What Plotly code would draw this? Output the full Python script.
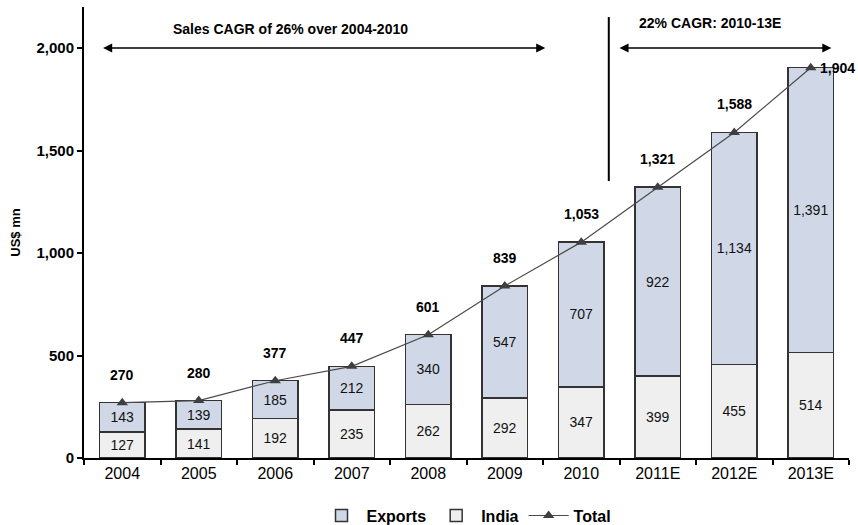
import plotly.graph_objects as go

years = ["2004", "2005", "2006", "2007", "2008", "2009", "2010", "2011E", "2012E", "2013E"]
india = [127, 141, 192, 235, 262, 292, 347, 399, 455, 514]
exports = [143, 139, 185, 212, 340, 547, 707, 922, 1134, 1391]
total = [270, 280, 377, 447, 601, 839, 1053, 1321, 1588, 1904]

FONT = "Liberation Sans, Arial, sans-serif"
EDGE = "#333333"

fig = go.Figure()

fig.add_trace(go.Bar(
    x=years, y=india, name="India", legendrank=2,
    marker=dict(color="#EFEFEF", line=dict(color=EDGE, width=1.5)),
    text=[f"{v:,}" for v in india], textposition="inside",
    insidetextanchor="middle", textangle=0,
    textfont=dict(family=FONT, size=14, color="#111111"),
))
fig.add_trace(go.Bar(
    x=years, y=exports, name="Exports", legendrank=1,
    marker=dict(color="#D0D8E7", line=dict(color=EDGE, width=1.5)),
    text=[f"{v:,}" for v in exports], textposition="inside",
    insidetextanchor="middle", textangle=0,
    textfont=dict(family=FONT, size=14, color="#111111"),
))
fig.add_trace(go.Scatter(
    x=years, y=total, name="Total", legendrank=3, mode="lines+markers",
    line=dict(color="#4A4A4A", width=1.2),
    marker=dict(symbol="triangle-up", size=10, color="#3F3F3F"),
))

# total labels above each bar (last one sits to the right of its marker);
# category axes position annotations by category index
annotations = []
for i, t in enumerate(total):
    last = i == len(total) - 1
    annotations.append(dict(
        x=i, y=t, xref="x", yref="y", text=f"<b>{t:,}</b>", showarrow=False,
        xshift=27 if last else 0, yshift=0 if last else 28,
        font=dict(family=FONT, size=14, color="#000000"),
    ))

# CAGR span arrows
annotations += [
    dict(x=5.53, y=2000, ax=-0.27, ay=2000, xref="x", yref="y", axref="x", ayref="y",
         showarrow=True, arrowhead=2, arrowside="end+start", arrowsize=1.4,
         arrowwidth=1.3, arrowcolor="#000000", text=""),
    dict(x=9.27, y=2000, ax=6.48, ay=2000, xref="x", yref="y", axref="x", ayref="y",
         showarrow=True, arrowhead=2, arrowside="end+start", arrowsize=1.4,
         arrowwidth=1.3, arrowcolor="#000000", text=""),
    dict(x=2.2, y=2093, xref="x", yref="y", showarrow=False,
         text="<b>Sales CAGR of 26% over 2004-2010</b>",
         font=dict(family=FONT, size=14, color="#000000")),
    dict(x=7.68, y=2122, xref="x", yref="y", showarrow=False,
         text="<b>22% CAGR: 2010-13E</b>",
         font=dict(family=FONT, size=14, color="#000000")),
]

fig.update_layout(
    width=858, height=525,
    margin=dict(l=84, r=9, t=7, b=67, autoexpand=False),
    paper_bgcolor="white", plot_bgcolor="white",
    barmode="stack", bargap=0.41,
    font=dict(family=FONT, size=14, color="#000000"),
    showlegend=True,
    legend=dict(orientation="h", x=0.5, xanchor="center", y=-0.09, yanchor="top",
                font=dict(family=FONT, size=16, color="#000000", weight="bold"),
                itemwidth=40, traceorder="normal"),
    annotations=annotations,
    shapes=[dict(type="line", xref="x", yref="y", x0=6.36, x1=6.36, y0=1351, y1=2151,
                 line=dict(color="#000000", width=2))],
    uniformtext=dict(mode=False),
)

fig.update_xaxes(
    type="category", showline=True, linecolor="#000000", linewidth=2,
    ticks="outside", tickson="boundaries", ticklen=5, tickwidth=2, tickcolor="#000000",
    showgrid=False, tickfont=dict(family=FONT, size=16, color="#000000"),
    range=[-0.5, 9.5], automargin=False,
)
fig.update_yaxes(
    range=[0, 2200], tickvals=[0, 500, 1000, 1500, 2000], tickformat=",",
    showline=True, linecolor="#000000", linewidth=2, showgrid=False, zeroline=False,
    ticks="outside", ticklen=5, tickwidth=2, tickcolor="#000000",
    tickfont=dict(family=FONT, size=15, color="#000000", weight="bold"),
    title=dict(text="<b>US$ mn</b>", font=dict(family=FONT, size=13, color="#000000"),
               standoff=13),
    automargin=False,
)

fig.write_html("out.html")
